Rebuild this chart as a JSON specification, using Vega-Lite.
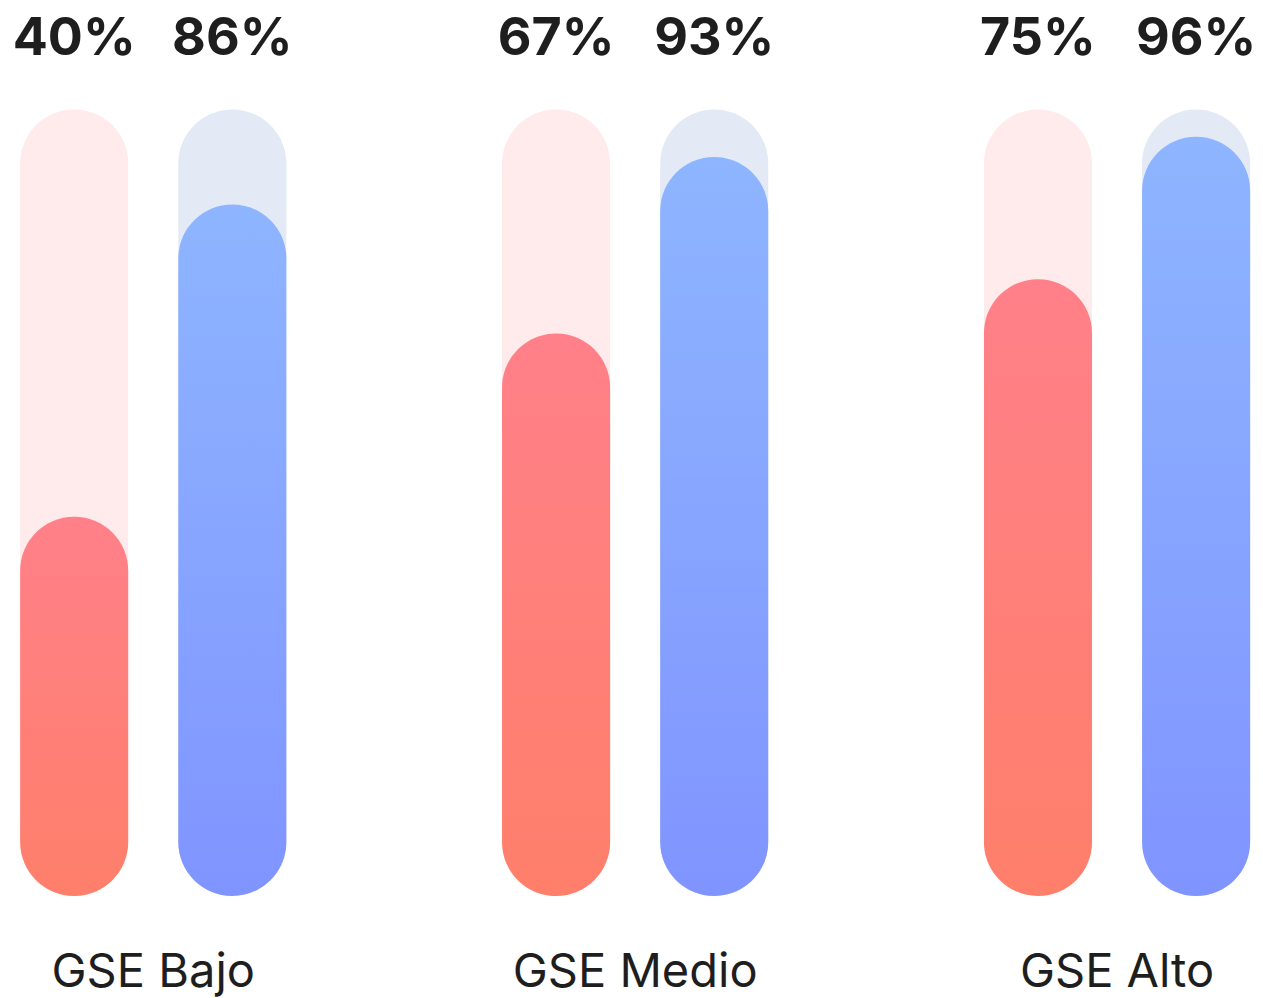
{
  "$schema": "https://vega.github.io/schema/vega-lite/v6.json",
  "width": 1263,
  "height": 896,
  "autosize": {"type": "none"},
  "padding": {"left": 0, "right": 0, "top": 0, "bottom": 102},
  "background": "white",
  "config": {"view": {"stroke": null}},
  "data": {
    "values": [
      {"group": "GSE Bajo", "series": "a", "value": 40},
      {"group": "GSE Bajo", "series": "b", "value": 86},
      {"group": "GSE Medio", "series": "a", "value": 67},
      {"group": "GSE Medio", "series": "b", "value": 93},
      {"group": "GSE Alto", "series": "a", "value": 75},
      {"group": "GSE Alto", "series": "b", "value": 96}
    ]
  },
  "transform": [{"calculate": "datum.value + '%'", "as": "label"}],
  "encoding": {
    "x": {
      "field": "group",
      "type": "nominal",
      "sort": ["GSE Bajo", "GSE Medio", "GSE Alto"],
      "scale": {"range": [-87.7, 1358], "paddingInner": 0, "paddingOuter": 0},
      "axis": {
        "title": null,
        "domain": false,
        "ticks": false,
        "grid": false,
        "labelAngle": 0,
        "labelLimit": 0,
        "labelFont": "Inter",
        "labelFontSize": 47,
        "labelColor": "#1E1E1E",
        "labelBaseline": "alphabetic",
        "labelPadding": 90
      }
    },
    "xOffset": {
      "field": "series",
      "type": "nominal",
      "sort": ["a", "b"],
      "scale": {"paddingInner": 0.3165, "paddingOuter": 0.682}
    }
  },
  "layer": [
    {
      "mark": {"type": "bar", "cornerRadius": 54},
      "encoding": {
        "y": {"datum": 100, "type": "quantitative", "scale": {"domain": [-15.9, 116.14], "nice": false, "zero": false}, "axis": null},
        "y2": {"datum": -15.9},
        "color": {"field": "series", "type": "nominal", "scale": {"domain": ["a", "b"], "range": ["#FFEAEC", "#E3EAF5"]}, "legend": null}
      }
    },
    {
      "transform": [{"filter": "datum.series === 'a'"}],
      "mark": {
        "type": "bar",
        "cornerRadius": 54,
        "color": {"gradient": "linear", "x1": 0, "y1": 0, "x2": 0, "y2": 1,
          "stops": [{"offset": 0, "color": "#FF8089"}, {"offset": 1, "color": "#FF7F6B"}]}
      },
      "encoding": {
        "y": {"field": "value", "type": "quantitative"},
        "y2": {"datum": -15.9}
      }
    },
    {
      "transform": [{"filter": "datum.series === 'b'"}],
      "mark": {
        "type": "bar",
        "cornerRadius": 54,
        "color": {"gradient": "linear", "x1": 0, "y1": 0, "x2": 0, "y2": 1,
          "stops": [{"offset": 0, "color": "#8EB5FF"}, {"offset": 1, "color": "#8094FF"}]}
      },
      "encoding": {
        "y": {"field": "value", "type": "quantitative"},
        "y2": {"datum": -15.9}
      }
    },
    {
      "mark": {"type": "text", "font": "Inter", "fontSize": 52, "fontWeight": "bold", "color": "#1E1E1E", "baseline": "alphabetic", "align": "center"},
      "encoding": {
        "y": {"datum": 108},
        "text": {"field": "label", "type": "nominal"}
      }
    }
  ]
}
